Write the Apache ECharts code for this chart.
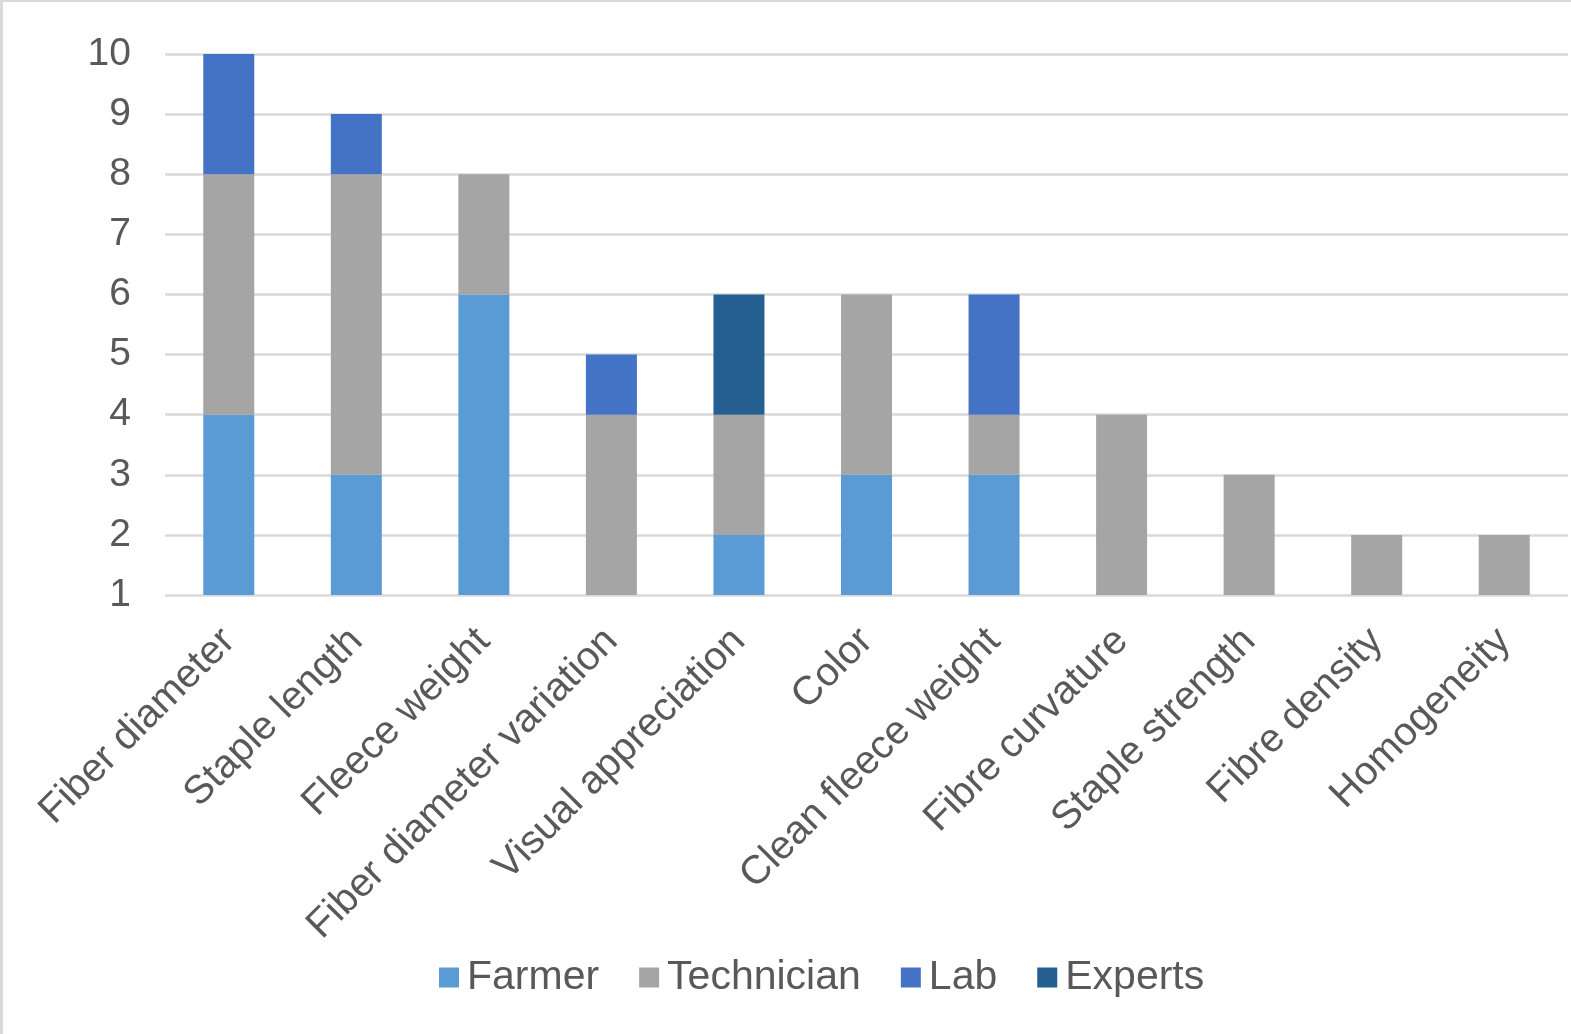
<!DOCTYPE html>
<html>
<head>
<meta charset="utf-8">
<script src="https://cdn.jsdelivr.net/npm/echarts@6/dist/echarts.min.js"></script>
<style>
  html, body { margin: 0; padding: 0; background: #fff; }
  #frame { position: absolute; left: 0; top: 0; width: 1571px; height: 1034px; box-sizing: border-box;
           border-left: 3px solid #d9d9d9; border-top: 2px solid #d9d9d9; }
  #chart { position: absolute; left: 0; top: 0; width: 1571px; height: 1034px; }
</style>
</head>
<body>
<div id="frame"></div>
<div id="chart"></div>
<script>
// Traits and how many times each evaluator group selected them
const categories = ['Fiber diameter', 'Staple length', 'Fleece weight', 'Fiber diameter variation',
  'Visual appreciation', 'Color', 'Clean fleece weight', 'Fibre curvature', 'Staple strength',
  'Fibre density', 'Homogeneity'];
const farmer     = [4, 3, 6, 0, 2, 3, 3, 0, 0, 0, 0];
const technician = [4, 5, 2, 4, 2, 3, 1, 4, 3, 2, 2];
const lab        = [2, 1, 0, 1, 0, 0, 2, 0, 0, 0, 0];
const experts    = [0, 0, 0, 0, 2, 0, 0, 0, 0, 0, 0];
const yTicks = [1, 2, 3, 4, 5, 6, 7, 8, 9, 10];

const font = '"Liberation Sans", Arial, sans-serif';
const textColor = '#595959';

function bar(name, data, color) {
  return {
    name: name, type: 'bar', stack: 'total', data: data, barWidth: 51,
    itemStyle: { color: color }
  };
}

const chart = echarts.init(document.getElementById('chart'), null, { renderer: 'canvas' });
chart.setOption({
  animation: false,
  textStyle: { fontFamily: font },
  grid: { left: 165, right: 3, top: 54, bottom: 439, containLabel: false },
  legend: {
    left: 434, top: 952,
    itemWidth: 20, itemHeight: 20, itemGap: 40,
    icon: 'rect',
    textStyle: { fontFamily: font, fontSize: 41, color: textColor, padding: [0, 0, 0, 3] },
    data: ['Farmer', 'Technician', 'Lab', 'Experts']
  },
  xAxis: {
    type: 'category', data: categories,
    axisLine: { show: false },
    axisTick: { show: false },
    axisLabel: { rotate: 45, interval: 0, margin: 40, fontSize: 40, color: textColor, fontFamily: font }
  },
  yAxis: {
    type: 'value', min: yTicks[0], max: yTicks[yTicks.length - 1], interval: 1,
    axisLine: { show: false },
    axisTick: { show: false },
    axisLabel: { margin: 34, fontSize: 39, color: textColor, fontFamily: font },
    splitLine: { lineStyle: { color: '#d9d9d9', width: 2.7 } }
  },
  series: [
    bar('Farmer', farmer, '#5B9BD5'),
    bar('Technician', technician, '#A5A5A5'),
    bar('Lab', lab, '#4472C4'),
    bar('Experts', experts, '#255E91')
  ]
});
</script>
</body>
</html>
